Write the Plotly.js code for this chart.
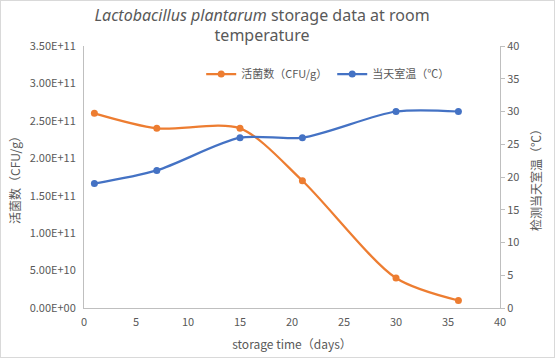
<!DOCTYPE html>
<html><head><meta charset="utf-8">
<script src="https://cdn.plot.ly/plotly-3.0.1.min.js"></script>
<style>html,body{margin:0;padding:0;background:#fff}#c{width:553px;height:356px;border:1px solid #d9d9d9}</style>
</head><body><div id="c"></div>
<script>
const days = [1, 7, 15, 21, 30, 36];
const cfu = [2.6e11, 2.4e11, 2.4e11, 1.7e11, 0.4e11, 0.1e11];
const temp = [19, 21, 26, 26, 30, 30];
const cfuTickVals = [0, 5e10, 1e11, 1.5e11, 2e11, 2.5e11, 3e11, 3.5e11];
const cfuTickText = ['0.00E+00','5.00E+10','1.00E+11','1.50E+11','2.00E+11','2.50E+11','3.00E+11','3.50E+11'];
const seriesNames = ['活菌数（CFU/g）', '当天室温（℃）'];

const grey = '#595959';
const fam = '"Noto Sans CJK SC", "Noto Sans", sans-serif';
const font = {family: fam, color: grey, size: 11};
const traces = [
  {x: days, y: cfu, name: seriesNames[0], type: 'scatter', mode: 'lines+markers',
   line: {color: '#ED7D31', width: 2.25, shape: 'spline', smoothing: 0.8},
   marker: {color: '#ED7D31', size: 7}, yaxis: 'y'},
  {x: days, y: temp, name: seriesNames[1], type: 'scatter', mode: 'lines+markers',
   line: {color: '#4472C4', width: 2.25, shape: 'spline', smoothing: 0.8},
   marker: {color: '#4472C4', size: 7}, yaxis: 'y2'}
];
const layout = {
  width: 553, height: 356,
  margin: {l: 83, r: 54, t: 45, b: 49},
  paper_bgcolor: '#fff', plot_bgcolor: '#fff',
  font: font,
  showlegend: true,
  legend: {orientation: 'h', x: 0.587, xanchor: 'center', y: 0.893, yanchor: 'middle',
           font: {size: 11, color: grey}, bgcolor: 'rgba(0,0,0,0)', itemwidth: 30},
  title: {text: '<i>Lactobacillus plantarum</i> storage data at room<br>temperature',
          xref: 'container', x: 0.472, xanchor: 'center', yref: 'container', y: 0.945, yanchor: 'middle',
          font: {size: 16, color: grey, family: '"Noto Sans", sans-serif'}},
  xaxis: {range: [0, 40], dtick: 5, tick0: 0, showgrid: false, zeroline: false,
          showline: true, linecolor: '#bfbfbf', linewidth: 1, ticks: '', ticklabelstandoff: 4,
          tickfont: {size: 11, color: grey},
          title: {text: 'storage time（days）', font: {size: 12, color: grey}, standoff: 12}},
  yaxis: {range: [0, 3.5e11], tickvals: cfuTickVals, ticktext: cfuTickText,
          showgrid: false, zeroline: false, showline: true, linecolor: '#bfbfbf', linewidth: 1,
          ticks: '', ticklabelstandoff: 5, tickfont: {size: 11, color: grey},
          title: {text: '活菌数（CFU/g）', font: {size: 12, color: grey}, standoff: 6}},
  yaxis2: {range: [0, 40], dtick: 5, overlaying: 'y', side: 'right', showgrid: false, zeroline: false,
           showline: true, linecolor: '#bfbfbf', linewidth: 1, ticks: 'outside', ticklen: 4,
           tickcolor: '#bfbfbf', tickfont: {size: 11, color: grey},
           title: {text: '检测当天室温（℃）', font: {size: 12, color: grey}, standoff: 14}}
};
Plotly.newPlot('c', traces, layout, {displayModeBar: false});
</script></body></html>
